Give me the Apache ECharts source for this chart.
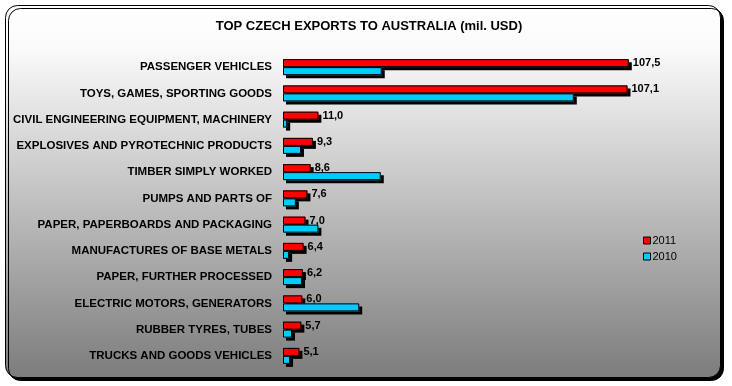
<!DOCTYPE html>
<html><head><meta charset="utf-8">
<script src="https://cdn.jsdelivr.net/npm/echarts@6/dist/echarts.min.js"></script>
<style>html,body{margin:0;padding:0;background:#fff}#c{width:732px;height:386px}</style>
</head><body><div id="c"></div>
<script>
const categories = ["PASSENGER VEHICLES","TOYS, GAMES, SPORTING GOODS","CIVIL ENGINEERING EQUIPMENT, MACHINERY","EXPLOSIVES AND PYROTECHNIC PRODUCTS","TIMBER SIMPLY WORKED","PUMPS AND PARTS OF","PAPER, PAPERBOARDS AND PACKAGING","MANUFACTURES OF BASE METALS","PAPER, FURTHER PROCESSED","ELECTRIC MOTORS, GENERATORS","RUBBER TYRES, TUBES","TRUCKS AND GOODS VEHICLES"];
const values2011 = [107.5,107.1,11.0,9.3,8.6,7.6,7.0,6.4,6.2,6.0,5.7,5.1];
const values2010 = [30.7,90.4,1.3,5.6,30.4,4.0,11.0,1.9,5.9,23.7,2.8,2.2];
const seriesNames = ["2011","2010"];
const colors = ['#ff0000','#00ccff'];

const chart = echarts.init(document.getElementById('c'), null, {renderer:'canvas'});
const FONT = 'Liberation Sans, Arial, sans-serif';
const fillStyle = c => ({color:c, borderWidth:0, shadowColor:'#000', shadowBlur:0, shadowOffsetX:3, shadowOffsetY:3});
const lineStyle = () => ({color:'rgba(0,0,0,0)', borderColor:'#000', borderWidth:1});
const yBase = {type:'category', data:categories, inverse:true,
    axisLine:{show:false}, axisTick:{show:false}, splitLine:{show:false}};
chart.setOption({
  animation:false,
  color:colors,
  graphic:[{type:'rect', z:-10, left:5, top:5, shape:{width:715, height:372, r:12},
    style:{fill:new echarts.graphic.LinearGradient(0,0,0,1,[{offset:0,color:'#ffffff'},{offset:0.12,color:'#fafafa'},{offset:1,color:'#7c7c7c'}]),
      stroke:'#000', lineWidth:1, shadowColor:'#000', shadowBlur:0, shadowOffsetX:3, shadowOffsetY:3}}],
  title:{text:'TOP CZECH EXPORTS TO AUSTRALIA (mil. USD)', left:364, textAlign:'center', top:15,
    textStyle:{fontFamily:FONT, fontSize:13, fontWeight:'bold', color:'#000'}},
  legend:{orient:'vertical', left:638, top:230, itemWidth:7, itemHeight:7, itemGap:5, icon:'rect',
    data:seriesNames, textStyle:{fontFamily:FONT, fontSize:11, color:'#000', padding:[0,0,0,-3]},
    itemStyle:{borderColor:'#000', borderWidth:1}},
  grid:{left:283, top:54, width:386, height:315, containLabel:false},
  xAxis:{type:'value', min:0, max:120, show:false},
  yAxis:[
    Object.assign({}, yBase, {axisLabel:{margin:11, fontFamily:FONT, fontSize:11.5, fontWeight:'bold', color:'#000'}}),
    Object.assign({}, yBase, {axisLabel:{show:false}, position:'left'})
  ],
  series:[
    {name:seriesNames[0], type:'bar', yAxisIndex:0, data:values2011, barWidth:8, barGap:'0%', itemStyle:fillStyle(colors[0])},
    {name:seriesNames[1], type:'bar', yAxisIndex:0, data:values2010, barWidth:8, barGap:'0%', itemStyle:fillStyle(colors[1])},
    {name:seriesNames[0], type:'bar', yAxisIndex:1, z:3, data:values2011, barWidth:8, barGap:'0%', itemStyle:lineStyle(),
      label:{show:true, position:'right', distance:4, offset:[0,0], fontFamily:FONT, fontSize:11, fontWeight:'bold', color:'#000',
        formatter:p=>p.value.toFixed(1).replace('.',',')}},
    {name:seriesNames[1], type:'bar', yAxisIndex:1, z:3, data:values2010, barWidth:8, barGap:'0%', itemStyle:lineStyle()}
  ]
});
</script></body></html>
